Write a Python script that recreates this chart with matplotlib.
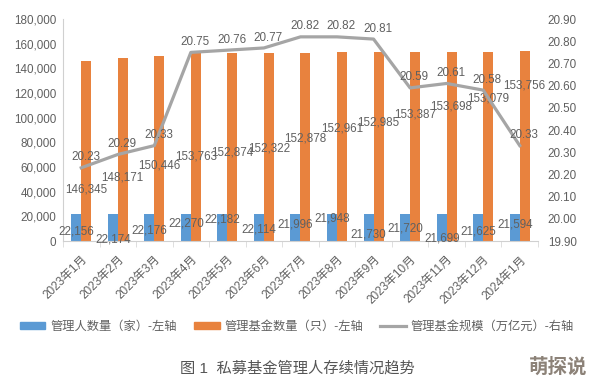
import numpy as np
import matplotlib
matplotlib.use("Agg")
import matplotlib.pyplot as plt
from matplotlib.ticker import FuncFormatter, MultipleLocator
from matplotlib.patches import Patch
from matplotlib.lines import Line2D

plt.rcParams['font.family'] = ['Liberation Sans', 'Noto Sans CJK SC', 'DejaVu Sans']

### DONNEES ###
months = ["2023年1月", "2023年2月", "2023年3月", "2023年4月", "2023年5月",
          "2023年6月", "2023年7月", "2023年8月", "2023年9月", "2023年10月",
          "2023年11月", "2023年12月", "2024年1月"]
managers = [22156, 22174, 22176, 22270, 22182, 22114, 21996,
            21948, 21730, 21720, 21699, 21625, 21594]
funds = [146345, 148171, 150446, 153763, 152874, 152322, 152878,
         152961, 152985, 153387, 153698, 153079, 153756]
scale = [20.23, 20.29, 20.33, 20.75, 20.76, 20.77, 20.82,
         20.82, 20.81, 20.59, 20.61, 20.58, 20.33]

# hauteur des etiquettes (axe gauche), placees comme dans l'original
managers_lab_y = [8100, 1600, 8900, 14500, 17800, 9700, 13700,
                  18600, 5600, 10500, 2400, 8100, 13700]
funds_lab_y = [42000, 51600, 61300, 68600, 71800, 75100, 83100,
               91200, 96000, 102500, 108900, 115400, 125900]

blue = "#5B9AD4"
orange = "#E8823E"
grey = "#A5A5A5"
txt = "#606060"
fs = 8.4

fig = plt.figure(figsize=(5.94, 3.82), dpi=100)
ax = fig.add_axes([0.106, 0.369, 0.7997, 0.581])
ax2 = ax.twinx()

x = np.arange(len(months))
w = 0.274
ax.bar(x - w / 2, managers, w, color=blue)
ax.bar(x + w / 2, funds, w, color=orange)

ax.set_xlim(-0.5, len(months) - 0.5)
ax.set_ylim(0, 180000)
ax.yaxis.set_major_locator(MultipleLocator(20000))
ax.yaxis.set_major_formatter(FuncFormatter(lambda v, p: "{:,.0f}".format(v)))
ax.tick_params(axis='y', length=0, pad=5, labelsize=fs, labelcolor=txt)

ax.set_xticks(x)
ax.set_xticklabels(months, rotation=45, ha='right', rotation_mode='anchor')
ax.tick_params(axis='x', length=0, pad=9, labelsize=8.5, labelcolor=txt)
ax.set_xticks(np.arange(-0.5, len(months)), minor=True)
ax.tick_params(axis='x', which='minor', length=4, color="#D9D9D9")

for s in ['top', 'right']:
    ax.spines[s].set_visible(False)
for s in ['left', 'bottom']:
    ax.spines[s].set_color("#D0D0D0")

for i in range(len(months)):
    ax.text(x[i] - w / 2, managers_lab_y[i], "{:,}".format(managers[i]),
            ha='center', va='center', fontsize=fs, color=txt)
    ax.text(x[i] + w / 2, funds_lab_y[i], "{:,}".format(funds[i]),
            ha='center', va='center', fontsize=fs, color=txt)

ax2.plot(x, scale, color=grey, lw=2.3)
ax2.set_ylim(19.9, 20.9)
ax2.yaxis.set_major_locator(MultipleLocator(0.1))
ax2.yaxis.set_major_formatter(FuncFormatter(lambda v, p: "{:.2f}".format(v)))
ax2.tick_params(axis='y', length=0, pad=7, labelsize=fs, labelcolor=txt)
for s in ax2.spines.values():
    s.set_visible(False)

for i in range(len(months)):
    ax2.annotate("{:.2f}".format(scale[i]), (x[i], scale[i]), xytext=(3, 7.5),
                 textcoords='offset points', ha='center', va='center',
                 fontsize=fs, color=txt)

handles = [Patch(color=blue), Patch(color=orange), Line2D([], [], color=grey, lw=2.3)]
labels = ["管理人数量（家）-左轴", "管理基金数量（只）-左轴", "管理基金规模（万亿元）-右轴"]
fig.legend(handles, labels, loc='center', bbox_to_anchor=(0.5, 0.144), ncol=3,
           frameon=False, fontsize=8.8, labelcolor=txt, handlelength=2.1,
           handleheight=0.5, handletextpad=0.4, columnspacing=1.4)

fig.text(0.5, 0.037, "图 1  私募基金管理人存续情况趋势", ha='center', va='center',
         fontsize=11, color="#555555")
fig.text(0.94, 0.04, "萌探说", ha='center', va='center', fontsize=14,
         fontweight='bold', color="#8C8278")

plt.savefig('out.png', dpi=100)
